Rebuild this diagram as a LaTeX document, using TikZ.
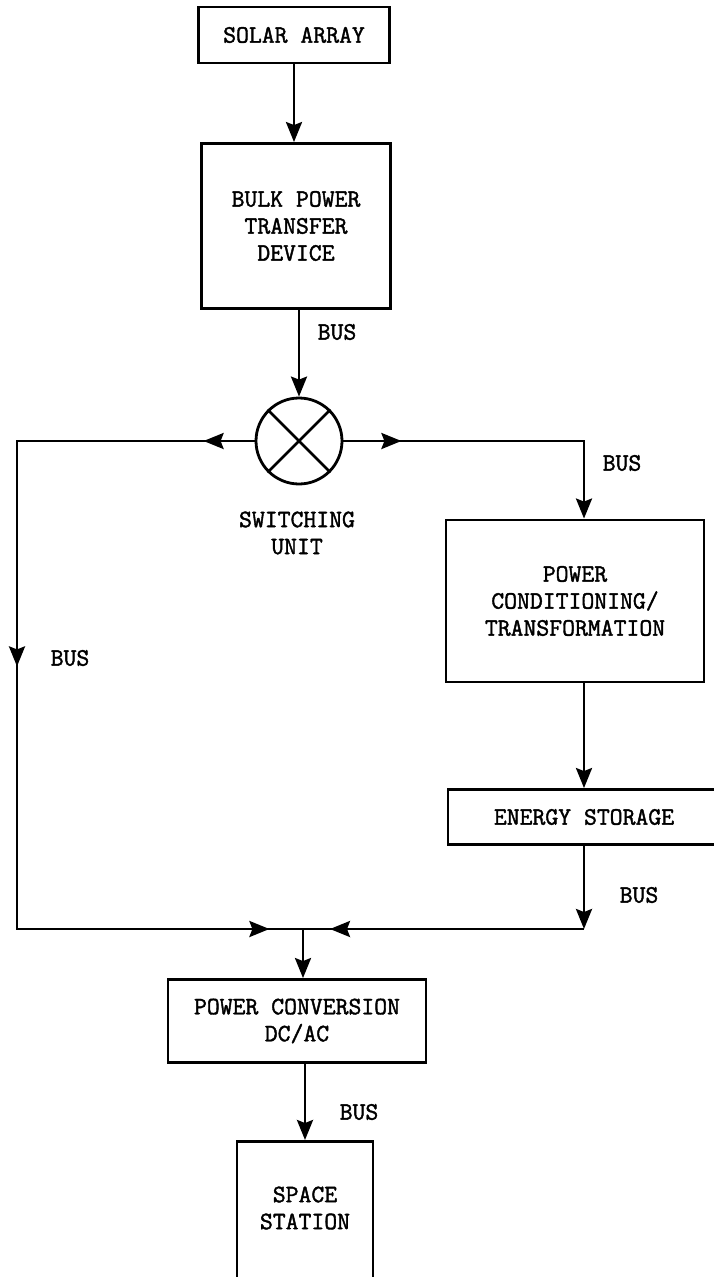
\documentclass[tikz,border=0pt]{standalone}
\usepackage{fontspec}
\usepackage{tikz}
\usetikzlibrary{arrows.meta}
\usetikzlibrary{decorations.markings}
\newfontfamily\TypeFace[FakeBold=1.6]{Latin Modern Mono}
\newcommand{\BlockFont}{\fontsize{25}{27}\selectfont\TypeFace}
\tikzstyle{Block}=[draw,line width=2.9pt,inner sep=0pt,align=center,
font=\BlockFont]
\tikzstyle{Switch}=[draw,circle,line width=2.8pt,minimum size=86pt,
inner sep=0pt]
\tikzstyle{Edge}=[draw,line width=2.7pt]
\tikzstyle{NodeBus}=[font=\BlockFont,align=center]
\tikzset{>={Stealth[length=20pt,width=16pt,inset=3pt]},
  Mid/.style={postaction={decorate},decoration={markings,
    mark=at position #1 with {\arrow{>}}}}}

\begin{document}
\begin{tikzpicture}[x=1pt,y=-1pt]
        \useasboundingbox(0,0)rectangle(713,1277);
        % blocks
        \node[Block,minimum width=191pt,minimum height=56pt](solar)
            at(294,35){SOLAR ARRAY};
        \node[Block,minimum width=189pt,minimum height=165pt](bulk)
            at(296,226){BULK POWER\\TRANSFER\\DEVICE};
        \node[Switch](sw)at(299,441){};
        \node[NodeBus](swl)at(297,533){SWITCHING\\UNIT};
        \node[Block,minimum width=258pt,minimum height=162pt](cond)
            at(575,601){POWER\\CONDITIONING/\\TRANSFORMATION};
        \node[Block,minimum width=272pt,minimum height=55pt](energy)
            at(584,817){ENERGY STORAGE};
        \node[Block,minimum width=258pt,minimum height=83pt](conv)
            at(297,1021){POWER CONVERSION\\DC/AC};
        \node[Block,minimum width=136pt,minimum height=170pt,anchor=north]
            (station)at(305,1140){};
        \node[NodeBus](stl)at(305,1208){SPACE\\STATION};
        % bus labels
        \node[NodeBus](bus1)at(337,332){BUS};
        \node[NodeBus](bus2)at(622,463){BUS};
        \node[NodeBus](bus3)at(70,658){BUS};
        \node[NodeBus](bus4)at(639,895){BUS};
        \node[NodeBus](bus5)at(359,1112){BUS};
        % corners
        \coordinate(tl)at(17,441);
        \coordinate(bl)at(17,929);
        \coordinate(tr)at(584,441);
        \coordinate(br)at(584,929);
        \coordinate(jn)at(303,929);
        % switch cross
        \draw[Edge](sw.135)--(sw.-45);
        \draw[Edge](sw.45)--(sw.-135);
        % connectors
        \draw[Edge,->](solar.south)--(solar.south|-bulk.north);
        \draw[Edge,->](sw.north|-bulk.south)--(sw.north);
        \draw[Edge,->,Mid=58pt](sw.east)--(tr)--(tr|-cond.north);
        \draw[Edge,->](tr|-cond.south)--(tr|-energy.north);
        \draw[Edge,->](energy.south)--(br);
        \draw[Edge,Mid=254pt](br)--(jn);
        \draw[Edge,postaction={decorate},decoration={markings,
            mark=at position 51pt with {\arrow{>}},
            mark=at position 463pt with {\arrow{>}},
            mark=at position 978pt with {\arrow{>}}}]
            (sw.west)--(tl)--(bl)--(jn);
        \draw[Edge,->](jn)--(jn|-conv.north);
        \draw[Edge,->](station.north|-conv.south)--(station.north);
    \end{tikzpicture}
\end{document}
